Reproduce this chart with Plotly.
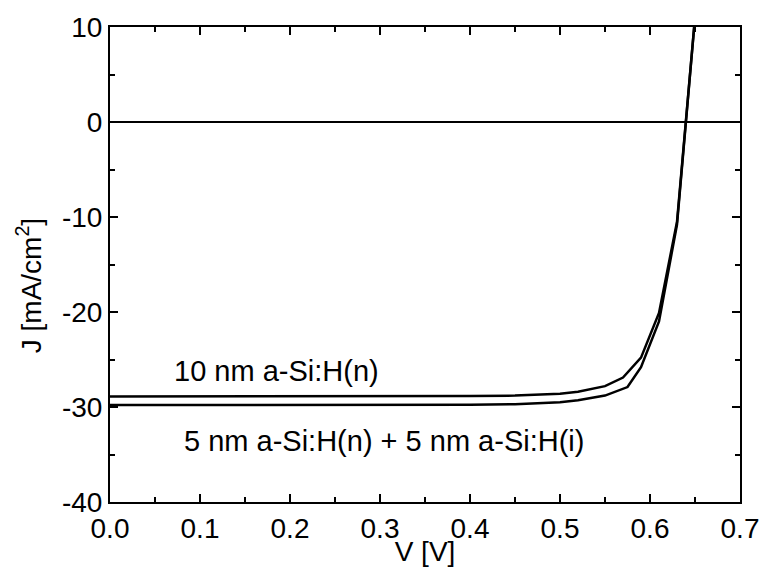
import plotly.graph_objects as go

v_upper = [0.0, 0.1, 0.2, 0.3, 0.4, 0.45, 0.5, 0.52, 0.55, 0.57, 0.59, 0.61, 0.63, 0.65]
j_upper = [-28.9, -28.9, -28.9, -28.88, -28.85, -28.8, -28.6, -28.4, -27.8, -26.9, -24.8, -20.1, -10.5, 11.0]
v_lower = [0.0, 0.1, 0.2, 0.3, 0.4, 0.45, 0.5, 0.52, 0.55, 0.575, 0.59, 0.61, 0.63, 0.65]
j_lower = [-29.8, -29.8, -29.8, -29.78, -29.75, -29.7, -29.5, -29.3, -28.8, -27.9, -25.8, -21.0, -10.8, 11.0]

label_upper = "10 nm a-Si:H(n)"
label_lower = "5 nm a-Si:H(n) + 5 nm a-Si:H(i)"
y_title = "J [mA/cm<sup>2</sup>]"
x_title = "V [V]"

x_ticks = [0.0, 0.1, 0.2, 0.3, 0.4, 0.5, 0.6, 0.7]
x_ticktext = ["0.0", "0.1", "0.2", "0.3", "0.4", "0.5", "0.6", "0.7"]
y_ticks = [-40, -30, -20, -10, 0, 10]
y_ticktext = ["-40", "-30", "-20", "-10", "0", "10"]

fig = go.Figure()
fig.add_trace(go.Scatter(x=v_upper, y=j_upper, mode="lines",
                         line=dict(color="black", width=2.5), name=label_upper))
fig.add_trace(go.Scatter(x=v_lower, y=j_lower, mode="lines",
                         line=dict(color="black", width=2.5), name=label_lower))

font = dict(family="Liberation Sans, Arial, sans-serif", color="black")
fig.add_annotation(x=0.069, y=-26.2, text=label_upper, showarrow=False,
                   xanchor="left", yanchor="middle", font=dict(size=29, **font))
fig.add_annotation(x=0.08, y=-33.6, text=label_lower, showarrow=False,
                   xanchor="left", yanchor="middle", font=dict(size=29, **font))
# y-axis title placed as a rotated annotation (paper coordinates)
fig.add_annotation(x=-0.128, y=0.455, xref="paper", yref="paper", text=y_title,
                   textangle=-90, showarrow=False, xanchor="center", yanchor="middle",
                   font=dict(size=28, **font))

axis_common = dict(showline=True, linecolor="black", linewidth=2, mirror="ticks",
                   ticks="inside", ticklen=8, tickwidth=1.5, tickcolor="black",
                   showgrid=False, automargin=False, tickfont=dict(size=28, **font),
                   title_font=dict(size=28, **font))
fig.update_xaxes(range=[0, 0.7], tickvals=x_ticks, ticktext=x_ticktext,
                 minor=dict(ticks="inside", ticklen=5, tickwidth=1.5, dtick=0.05, tickcolor="black"),
                 zeroline=False, title_text=x_title, title_standoff=0, **axis_common)
fig.update_yaxes(range=[-40, 10], tickvals=y_ticks, ticktext=y_ticktext,
                 minor=dict(ticks="inside", ticklen=5, tickwidth=1.5, dtick=5, tickcolor="black"),
                 zeroline=True, zerolinecolor="black", zerolinewidth=1.5,
                 **axis_common)

fig.update_layout(width=761, height=567, showlegend=False,
                  plot_bgcolor="white", paper_bgcolor="white",
                  margin=dict(l=110, r=21, t=27, b=65, autoexpand=False))
fig.write_html("out.html")
